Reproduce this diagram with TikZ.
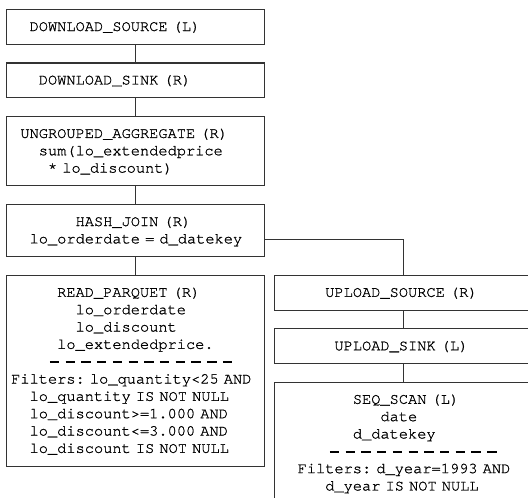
\documentclass[tikz,border=0pt]{standalone}
\usepackage{fontspec}
\setmonofont{texgyrecursor}[Extension=.otf, UprightFont=*-regular,
  WordSpace={1,0,0}, RawFeature={embolden=1.0}]
\usetikzlibrary{positioning,calc}
\newlength{\charw}\setlength{\charw}{6.9pt}
\newcommand*{\ind}[1]{\hspace*{#1\charw}}
\newcommand*{\lnstrut}{\rule[-3.4pt]{0pt}{13pt}}
\newcommand*{\sepdash}[1]{\foreach \k in {1,...,#1}{\rule[2.1pt]{7pt}{1.5pt}\hspace{4.8pt}}}
\tikzset{
  opbox/.style={draw=black!80, line width=0.8pt,
    font=\fontsize{11.5pt}{13pt}\selectfont\ttfamily\frenchspacing,
    text width=186.5pt, align=left, inner xsep=3.5pt, inner ysep=6.5pt,
    execute at begin node=\lnstrut, execute at end node=\lnstrut},
  link/.style={draw=black!80, line width=0.8pt}
}

\begin{document}
\begin{tikzpicture}
\useasboundingbox (0,0) rectangle (396pt,-372.75pt);

% Left column
\node[opbox, anchor=north west] (dsrc) at (4.5pt,-6.75pt)
  {\ind{2}DOWNLOAD\_SOURCE (L)};
\node[opbox, below=13.3pt of dsrc] (dsink)
  {\ind{3}DOWNLOAD\_SINK (R)};
\node[opbox, below=13.3pt of dsink] (agg)
  {\ind{1}UNGROUPED\_AGGREGATE (R)\\ \ind{3}sum(lo\_extendedprice\\
   \ind{4}* lo\_discount)};
\node[opbox, below=13.3pt of agg] (hj)
  {\ind{7}HASH\_JOIN (R)\\ \ind{2}lo\_orderdate = d\_datekey};
\node[opbox, below=13.3pt of hj] (rp)
  {\ind{5}READ\_PARQUET (R)\\ \ind{7}lo\_orderdate\\ \ind{7}lo\_discount\\
   \ind{5}lo\_extendedprice.\\ \ind{4.2}\sepdash{12}\\
   Filters: lo\_quantity<25 AND\\ \ind{2}lo\_quantity IS NOT NULL\\
   \ind{2}lo\_discount>=1.000 AND\\ \ind{2}lo\_discount<=3.000 AND\\
   \ind{2}lo\_discount IS NOT NULL};

% Right column
\node[opbox, right=6.75pt of rp.north east, anchor=north west] (usrc)
  {\ind{5}UPLOAD\_SOURCE (R)};
\node[opbox, below=13.3pt of usrc] (usink)
  {\ind{6}UPLOAD\_SINK (L)};
\node[opbox, below=13.3pt of usink] (scan)
  {\ind{8}SEQ\_SCAN (L)\\ \ind{11}date\\ \ind{8}d\_datekey\\
   \ind{5.5}\sepdash{11}\\ \ind{2}Filters: d\_year=1993 AND\\
   \ind{5}d\_year IS NOT NULL\rule[-8pt]{0pt}{8pt}};

% Links
\coordinate (hjtap) at ($(hj.south east)+(0,13.3pt)$);
\draw[link] (dsrc) -- (dsink);
\draw[link] (dsink) -- (agg);
\draw[link] (agg) -- (hj);
\draw[link] (hj) -- (rp);
\draw[link] (hjtap) -| (usrc.north);
\draw[link] (usrc) -- (usink);
\draw[link] (usink) -- (scan);
\end{tikzpicture}
\end{document}
